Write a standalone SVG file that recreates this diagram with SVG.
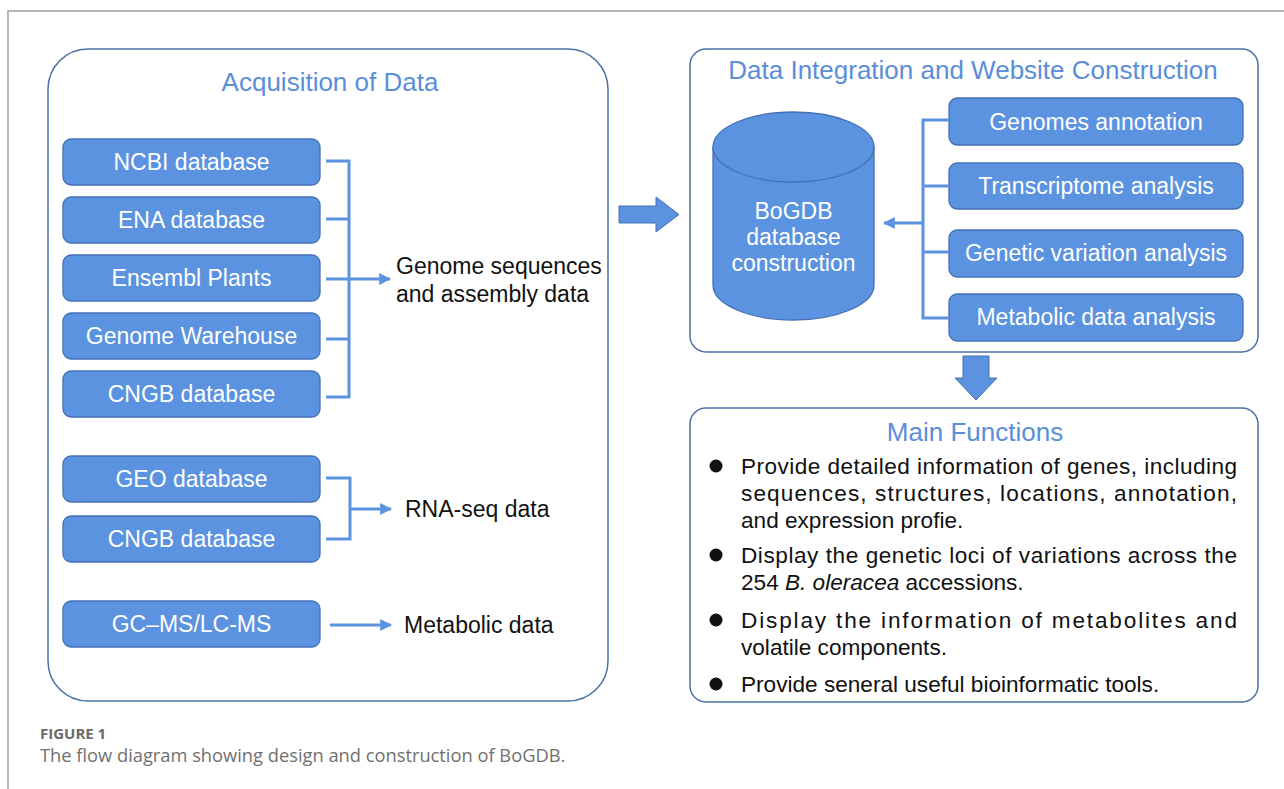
<svg xmlns="http://www.w3.org/2000/svg" width="1284" height="789" viewBox="0 0 1284 789">
<style>
.panel{fill:#fff;stroke:#4a6fa8;stroke-width:1.5}
.node{fill:#5b93e0;stroke:#4470b5;stroke-width:1.3}
.nt{font-family:"Liberation Sans",Arial,sans-serif;font-size:23px;fill:#fff;text-anchor:middle}
.title{font-family:"Liberation Sans",Arial,sans-serif;font-size:26px;fill:#5a8ed8;text-anchor:middle}
.lbl{font-family:"Liberation Sans",Arial,sans-serif;font-size:23px;fill:#111}
.bt{font-family:"Liberation Sans",Arial,sans-serif;font-size:22.6px;fill:#111}
.conn{fill:none;stroke:#5b93e0;stroke-width:3}
.frame{fill:none;stroke:#a0a0a0;stroke-width:1.5}
</style>
<defs>
<marker id="ah" viewBox="0 0 10 10" refX="9" refY="5" markerWidth="4" markerHeight="4" orient="auto" markerUnits="strokeWidth">
<path d="M0,0 L10,5 L0,10 Z" fill="#5b93e0"/>
</marker>
</defs>
<path class="frame" d="M8,789 L8,11 L1284,11"/>

<g id="acquisition-panel">
<rect class="panel" x="48" y="49" width="560" height="652" rx="40"/>
<text class="title" x="330" y="91">Acquisition of Data</text>
</g>
<g id="integration-panel">
<rect class="panel" x="690" y="49" width="568" height="303" rx="16"/>
<text class="title" x="973" y="79">Data Integration and Website Construction</text>
</g>

<g id="ncbi"><rect class="node" x="63" y="139" width="257" height="46" rx="8"/><text class="nt" x="191.5" y="170">NCBI database</text></g>
<g id="ena"><rect class="node" x="63" y="197" width="257" height="46" rx="8"/><text class="nt" x="191.5" y="228">ENA database</text></g>
<g id="ensembl"><rect class="node" x="63" y="255" width="257" height="46" rx="8"/><text class="nt" x="191.5" y="286">Ensembl Plants</text></g>
<g id="genome-warehouse"><rect class="node" x="63" y="313" width="257" height="46" rx="8"/><text class="nt" x="191.5" y="344">Genome Warehouse</text></g>
<g id="cngb1"><rect class="node" x="63" y="371" width="257" height="46" rx="8"/><text class="nt" x="191.5" y="402">CNGB database</text></g>
<g id="geo"><rect class="node" x="63" y="456" width="257" height="46" rx="8"/><text class="nt" x="191.5" y="487">GEO database</text></g>
<g id="cngb2"><rect class="node" x="63" y="516" width="257" height="46" rx="8"/><text class="nt" x="191.5" y="547">CNGB database</text></g>
<g id="gcms"><rect class="node" x="63" y="601" width="257" height="46" rx="8"/><text class="nt" x="191.5" y="632">GC–MS/LC-MS</text></g>

<g id="genome-label"><text class="lbl" x="396" y="274">Genome sequences</text><text class="lbl" x="396" y="302">and assembly data</text></g>
<g id="rnaseq-label"><text class="lbl" x="405" y="517">RNA-seq data</text></g>
<g id="metabolic-label"><text class="lbl" x="404" y="633">Metabolic data</text></g>

<g id="bogdb">
<path class="node" d="M713,147 L713,285 A80.5,35 0 0 0 874,285 L874,147 Z"/>
<ellipse class="node" cx="793.5" cy="147" rx="80.5" ry="35"/>
<text class="nt" x="793.5" y="219">BoGDB</text>
<text class="nt" x="793.5" y="245">database</text>
<text class="nt" x="793.5" y="271">construction</text>
</g>

<g id="genomes-annotation"><rect class="node" x="949" y="98" width="294" height="47" rx="8"/><text class="nt" x="1096" y="130">Genomes annotation</text></g>
<g id="transcriptome"><rect class="node" x="949" y="163" width="294" height="46" rx="8"/><text class="nt" x="1096" y="194">Transcriptome analysis</text></g>
<g id="genetic-variation"><rect class="node" x="949" y="230" width="294" height="47" rx="8"/><text class="nt" x="1096" y="261">Genetic variation analysis</text></g>
<g id="metabolic-analysis"><rect class="node" x="949" y="294" width="294" height="47" rx="8"/><text class="nt" x="1096" y="325">Metabolic data analysis</text></g>

<g id="main-functions">
<rect class="panel" x="690" y="408" width="568" height="294" rx="16"/>
<text class="title" x="975" y="441">Main Functions</text>
<circle cx="716" cy="466" r="6.5" fill="#111"/>
<text class="bt" x="741" y="474" textLength="496" lengthAdjust="spacing">Provide detailed information of genes, including</text>
<text class="bt" x="741" y="501" textLength="496" lengthAdjust="spacing">sequences, structures, locations, annotation,</text>
<text class="bt" x="741" y="528">and expression profie.</text>
<circle cx="716" cy="555" r="6.5" fill="#111"/>
<text class="bt" x="741" y="563" textLength="496" lengthAdjust="spacing">Display the genetic loci of variations across the</text>
<text class="bt" x="741" y="590">254 <tspan font-style="italic">B. oleracea</tspan> accessions.</text>
<circle cx="716" cy="620" r="6.5" fill="#111"/>
<text class="bt" x="741" y="628" textLength="496" lengthAdjust="spacing">Display the information of metabolites and</text>
<text class="bt" x="741" y="655">volatile components.</text>
<circle cx="716" cy="684" r="6.5" fill="#111"/>
<text class="bt" x="741" y="692">Provide seneral useful bioinformatic tools.</text>
</g>

<g id="connectors">
<path class="conn" d="M326,161 H349 V397 H326 M326,219 H349 M326,279 H349 M326,339 H349"/>
<path class="conn" d="M349,279 H390" marker-end="url(#ah)"/>
<path class="conn" d="M326,478 H350 V539 H326"/>
<path class="conn" d="M350,509 H391" marker-end="url(#ah)"/>
<path class="conn" d="M330,625 H391" marker-end="url(#ah)"/>
<path class="conn" d="M949,120 H923 V318 H949 M923,186 H949 M923,252 H949"/>
<path class="conn" d="M923,223 H884" marker-end="url(#ah)"/>
<path d="M619,206 H656 V197 L679,214.5 L656,232 V223 H619 Z" fill="#5b93e0" stroke="#4470b5" stroke-width="1"/>
<path d="M963,356 H989 V378 H997 L976,400 L955,378 H963 Z" fill="#5b93e0" stroke="#4470b5" stroke-width="1"/>
</g>

<g id="caption">
<text x="40" y="739" style="font-family:'Open Sans','Liberation Sans',sans-serif;font-size:15px;font-weight:bold;fill:#6a6a6a">FIGURE 1</text>
<text x="40" y="762" style="font-family:'Open Sans','Liberation Sans',sans-serif;font-size:18.3px;fill:#707070">The flow diagram showing design and construction of BoGDB.</text>
</g>
</svg>
